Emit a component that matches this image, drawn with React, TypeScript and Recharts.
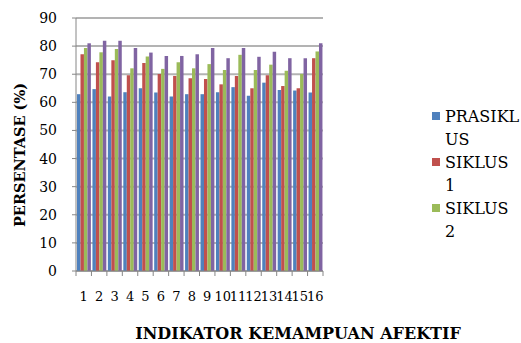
import React from 'react';
import { BarChart, Bar, XAxis, YAxis, CartesianGrid, Legend } from 'recharts';

const CATEGORIES = ['1','2','3','4','5','6','7','8','9','10','11','12','13','14','15','16'];
const PRASIKLUS = [62.9, 64.7, 62.1, 63.6, 65.0, 63.5, 62.1, 62.9, 62.9, 63.6, 65.4, 62.3, 67.0, 64.4, 64.2, 63.5];
const SIKLUS1 = [77.1, 74.3, 75.0, 69.6, 74.0, 70.1, 69.4, 68.6, 68.3, 66.4, 69.4, 65.0, 69.6, 65.8, 65.0, 75.7];
const SIKLUS2 = [79.3, 77.8, 79.0, 72.1, 76.3, 71.9, 74.3, 72.1, 73.6, 71.5, 76.9, 71.5, 73.4, 71.2, 70.1, 78.1];
const SIKLUS3 = [81.0, 81.9, 81.9, 79.3, 77.7, 76.5, 76.5, 77.1, 79.3, 75.7, 79.3, 76.2, 78.0, 75.7, 75.7, 81.0];
const SERIES_NAMES = ['PRASIKLUS', 'SIKLUS 1', 'SIKLUS 2', 'SIKLUS 3'];
const COLORS = ['#4F81BD', '#C0504D', '#9BBB59', '#8064A2'];
const Y_TICKS = [0, 10, 20, 30, 40, 50, 60, 70, 80, 90];
const X_TITLE = 'INDIKATOR KEMAMPUAN AFEKTIF';
const Y_TITLE = 'PERSENTASE (%)';
// the reference legend box only has room for the first three entries
const LEGEND_VISIBLE = 3;

const data = CATEGORIES.map((c, i) => ({
  cat: c,
  s0: PRASIKLUS[i],
  s1: SIKLUS1[i],
  s2: SIKLUS2[i],
  s3: SIKLUS3[i],
}));

const FONT = 'DejaVu Serif';

// Excel-like wrapping of legend text into lines of at most 7 characters
const wrapLabel = (s: string, max = 7): string[] => {
  const lines: string[] = [];
  s.split(' ').forEach((w) => {
    let word = w;
    while (word.length > max) {
      lines.push(word.slice(0, max));
      word = word.slice(max);
    }
    lines.push(word);
  });
  return lines;
};

const XTick = (props: any) => {
  const { x, y, payload, index } = props;
  const half = payload && payload.offset ? payload.offset : 10.5;
  const last = index === CATEGORIES.length - 1;
  return (
    <g>
      <line x1={x - half} x2={x - half} y1={y - 5} y2={y} stroke="#868686" />
      {last && <line x1={x + half} x2={x + half} y1={y - 5} y2={y} stroke="#868686" />}
      <text x={x} y={y + 16} dy="0.71em" textAnchor="middle" style={{ fontFamily: FONT }} fontSize={13} fill="#000">
        {payload.value}
      </text>
    </g>
  );
};

const YTitle = () => {
  const cx = 19;
  const cy = 155;
  return (
    <text
      x={cx}
      y={cy}
      transform={`rotate(-90, ${cx}, ${cy})`}
      textAnchor="middle"
      dominantBaseline="central"
      style={{ fontFamily: FONT }}
      fontWeight="bold"
      fontSize={14.5}
      fill="#000"
    >
      {Y_TITLE}
    </text>
  );
};

const XTitle = () => (
  <text x={298} y={333} textAnchor="middle" dominantBaseline="central" style={{ fontFamily: FONT }} fontWeight="bold" fontSize={16} fill="#000">
    {X_TITLE}
  </text>
);

const YTick = (props: any) => {
  const { x, y, payload } = props;
  return (
    <text x={x} y={y} dy="0.355em" textAnchor="end" style={{ fontFamily: FONT }} fontSize={14} fill="#000">
      {payload.value}
    </text>
  );
};

const LegendContent = (props: any) => {
  const payload = (props.payload || []).slice(0, LEGEND_VISIBLE);
  return (
    <div style={{ fontFamily: FONT, fontSize: 16, lineHeight: '23px', color: '#000' }}>
      {payload.map((p: any, i: number) => (
        <div key={i} style={{ display: 'flex', alignItems: 'flex-start' }}>
          <div style={{ width: 8, height: 8, background: p.color, marginTop: 7, marginRight: 5, flexShrink: 0 }} />
          <div style={{ whiteSpace: 'nowrap', fontFamily: FONT }}>
            {wrapLabel(String(p.value)).map((line, j) => (
              <div key={j}>{line}</div>
            ))}
          </div>
        </div>
      ))}
    </div>
  );
};

export default function App() {
  return (
    <div style={{ position: 'absolute', left: 0, top: 0, width: 521, height: 343, background: '#fff', fontFamily: FONT }}>
      <BarChart
        width={521}
        height={343}
        data={data}
        margin={{ top: 18, right: 109, left: 0, bottom: 0 }}
        barGap={0}
        barSize={4}
      >
        <CartesianGrid vertical={false} stroke="#b3b3b3" strokeWidth={2} />
        <XAxis
          dataKey="cat"
          height={72}
          tickSize={5}
          tickMargin={0}
          tickLine={false}
          axisLine={{ stroke: '#868686' }}
          tick={<XTick />}
          interval={0}
          label={<XTitle />}
        />
        <YAxis
          width={76}
          domain={[0, 90]}
          ticks={Y_TICKS}
          interval={0}
          tickSize={4}
          tickMargin={15}
          axisLine={{ stroke: '#868686' }}
          tickLine={{ stroke: '#868686' }}
          tick={<YTick />}
          label={<YTitle />}
        />
        <Legend
          layout="vertical"
          align="right"
          verticalAlign="top"
          content={<LegendContent />}
          wrapperStyle={{ left: 432, top: 105, width: 89 }}
        />
        <Bar dataKey="s0" name={SERIES_NAMES[0]} fill={COLORS[0]} isAnimationActive={false} />
        <Bar dataKey="s1" name={SERIES_NAMES[1]} fill={COLORS[1]} isAnimationActive={false} />
        <Bar dataKey="s2" name={SERIES_NAMES[2]} fill={COLORS[2]} isAnimationActive={false} />
        <Bar dataKey="s3" name={SERIES_NAMES[3]} fill={COLORS[3]} isAnimationActive={false} />
      </BarChart>
    </div>
  );
}
